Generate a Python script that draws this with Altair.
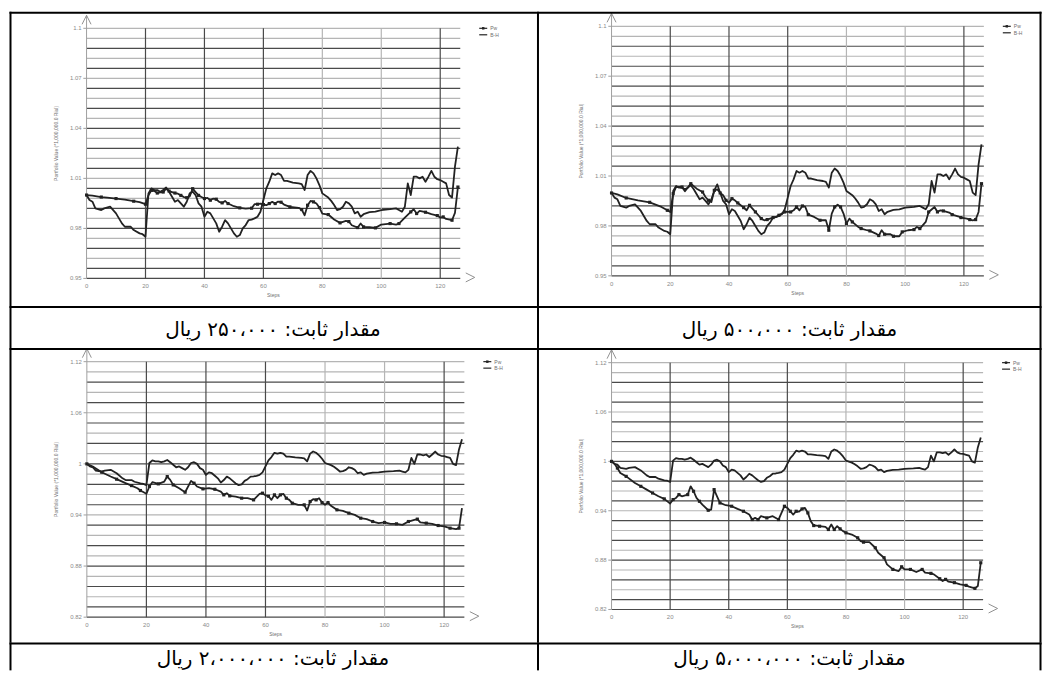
import altair as alt
import pandas as pd

# ---------------- data ----------------
X_TITLE = "Steps"
Y_TITLE = "Portfolio Value (*1,000,000.0 Rial)"
SERIES_NAMES = ["Pw", "B-H"]
CAPTIONS = [
    "مقدار ثابت: ۲۵۰،۰۰۰ ریال",
    "مقدار ثابت: ۵۰۰،۰۰۰ ریال",
    "مقدار ثابت: ۲،۰۰۰،۰۰۰ ریال",
    "مقدار ثابت: ۵،۰۰۰،۰۰۰ ریال",
]
X_TICKS = [0, 20, 40, 60, 80, 100, 120]
Y_TICKS_TOP = [0.95, 0.98, 1.01, 1.04, 1.07, 1.10]
Y_LABELS_TOP = ["0.95", "0.98", "1.01", "1.04", "1.07", "1.1"]
Y_TICKS_BOTTOM = [0.82, 0.88, 0.94, 1.00, 1.06, 1.12]
Y_LABELS_BOTTOM = ["0.82", "0.88", "0.94", "1", "1.06", "1.12"]

# Buy-and-hold (same in all four panels)
BH_STEPS = [0, 1, 2, 3, 5, 6, 8, 10, 12, 13, 15, 16, 18, 19, 20,
            21, 22, 23, 24, 25, 26, 27, 28, 29, 30, 31, 32, 33, 34, 35, 36, 37, 38, 39, 40,
            41, 42, 43, 44, 45, 46, 47, 48, 49, 50, 51, 52, 53, 54, 55, 56, 57, 58, 59, 60,
            61, 62, 63, 64, 65, 66, 67, 68,
            70, 72, 73, 74, 75, 76, 77, 78, 79, 80,
            82, 83, 84, 85, 86, 87, 88, 89, 90, 91, 92, 93, 94,
            96, 98, 100, 103, 105, 106, 107, 108, 109, 110,
            111, 112, 113, 114, 115, 116, 117, 118, 119, 120, 121, 122, 123, 124, 125, 126]
BH_VALUES = [1.000, 0.997, 0.996, 0.992, 0.991, 0.992, 0.993, 0.989, 0.983, 0.981, 0.981, 0.979, 0.977, 0.9765, 0.975,
             1.001, 1.004, 1.003, 1.003, 1.002, 1.003, 1.0045, 1.002, 0.999, 0.996, 0.997, 0.995, 0.993, 0.996, 1.001,
             1.002, 1.000, 0.995, 0.993, 0.987, 0.990, 0.989, 0.986, 0.983, 0.978, 0.981, 0.985, 0.983, 0.980, 0.977,
             0.975, 0.976, 0.980, 0.982, 0.985, 0.9853, 0.986, 0.987, 0.990, 0.997, 1.004, 1.008, 1.013, 1.012, 1.013,
             1.012, 1.0085, 1.0085,
             1.0075, 1.007, 1.0065, 1.003, 1.012, 1.0145, 1.013, 1.010, 1.006, 1.001,
             0.9985, 0.9965, 0.994, 0.991, 0.9915, 0.993, 0.996, 0.995, 0.993, 0.989, 0.990, 0.987, 0.9885,
             0.9897, 0.990, 0.991, 0.9915, 0.992, 0.991, 0.990, 0.993, 1.007, 1.000,
             1.011, 1.011, 1.010, 1.011, 1.008, 1.011, 1.0145, 1.011, 1.0095, 1.009, 1.008, 1.007, 1.000, 0.9985,
             1.017, 1.029]

# Pw, fixed amount 250,000
PW1_STEPS = [0, 2, 5, 7, 10, 13, 16, 18, 20,
             21, 22, 23, 24, 25, 26, 27, 28, 29, 30, 31, 32, 33, 34, 35, 36, 37, 38, 39, 40, 41, 42, 43, 44, 45,
             46, 47, 48, 50, 52, 54, 56,
             57, 58, 59, 60, 61, 62, 63, 64, 65, 66, 67, 69,
             72, 73, 74, 75, 76, 77, 78, 79, 80,
             82, 84, 86, 88, 89, 90, 92, 93, 94,
             96, 98, 100, 103, 105, 106, 108, 110,
             111, 112, 113, 115, 117, 119, 120, 121, 122, 124, 125, 126]
PW1_VALUES = [1.000, 0.9996, 0.9988, 0.9984, 0.9979, 0.9973, 0.9963, 0.9957, 0.9945,
              0.9998, 1.0028, 1.0024, 1.0012, 1.0016, 1.0018, 1.0038, 1.0024, 1.0018, 1.0012, 1.0008, 0.9998,
              0.9988, 0.9984, 0.9992, 1.0038, 1.0018, 0.9998, 0.9988, 0.9979, 0.9983, 0.9969, 0.9979, 0.9975,
              0.9959, 0.9953, 0.9965, 0.9949, 0.9933, 0.9923, 0.9919, 0.9921,
              0.9945, 0.9945, 0.9949, 0.9943, 0.9939, 0.9949, 0.9959, 0.9949, 0.9961, 0.9957, 0.9943, 0.9929,
              0.9923, 0.9913, 0.9879, 0.9939, 0.9965, 0.9959, 0.9949, 0.9925, 0.9889,
              0.9883, 0.9853, 0.9833, 0.9845, 0.9841, 0.9819, 0.9805, 0.9829, 0.9809,
              0.9807, 0.9803, 0.9823, 0.9829, 0.9823, 0.9829, 0.9865, 0.9899,
              0.9915, 0.9889, 0.9905, 0.9897, 0.9885, 0.9877, 0.9865, 0.9869, 0.9857, 0.9849, 0.9893, 1.0048]

# Pw, fixed amount 500,000
PW2_STEPS = [0, 2, 5, 9, 13, 17, 19, 20, 21, 22, 24, 25, 27, 29,
             31, 32, 33, 34, 35, 36, 37, 38, 39, 40, 41, 42, 43, 44, 45, 46, 47, 48, 49, 50, 51, 52, 53, 54, 55,
             56, 57, 58, 59, 60, 61, 62, 63, 64, 65, 66, 67,
             69, 71, 73, 74, 75, 76, 77, 78, 79, 80, 81, 82,
             84, 85, 87, 88, 90, 91, 92, 93, 95, 96, 98, 99, 101, 103, 104, 105, 107, 108, 110,
             111, 112, 113, 115, 116, 118, 119, 121, 122, 123, 124, 125, 126]
PW2_VALUES = [0.9998, 0.9990, 0.9968, 0.9954, 0.9942, 0.9914, 0.9894, 0.9884, 0.9994, 1.0034, 1.0034, 1.0008,
              1.0054, 1.0024,
              1.0004, 0.9974, 0.9954, 0.9944, 1.0014, 1.0050, 0.9998, 0.9984, 0.9954, 0.9940, 0.9964, 0.9954,
              0.9938, 0.9924, 0.9910, 0.9894, 0.9924, 0.9904, 0.9884, 0.9864, 0.9844, 0.9834, 0.9838, 0.9844,
              0.9850, 0.9854, 0.9864, 0.9874, 0.9884, 0.9884, 0.9884, 0.9894, 0.9914, 0.9894, 0.9920, 0.9914,
              0.9868,
              0.9854, 0.9834, 0.9834, 0.9774, 0.9874, 0.9914, 0.9928, 0.9914, 0.9874, 0.9814, 0.9844, 0.9824,
              0.9794, 0.9784, 0.9774, 0.9770, 0.9754, 0.9742, 0.9774, 0.9750, 0.9750, 0.9738, 0.9738, 0.9764,
              0.9774, 0.9778, 0.9794, 0.9784, 0.9824, 0.9884, 0.9914,
              0.9884, 0.9894, 0.9890, 0.9880, 0.9868, 0.9858, 0.9850, 0.9844, 0.9838, 0.9834, 0.9838, 0.9884,
              1.0054]

# Pw, fixed amount 2,000,000
PW3_STEPS = [0, 2, 5, 8, 10, 13, 15, 17, 18, 20,
             21, 22, 24, 26, 27, 28, 29, 31, 33, 35, 36, 37, 39, 41, 43, 45, 46, 47, 48, 50, 52, 54, 56, 58, 59,
             60, 61, 62, 63, 64, 65, 66, 67, 68, 69, 71, 73,
             74, 75, 76, 77, 78, 79, 80, 81, 82,
             84, 86, 88, 90, 92, 94, 96, 98, 100, 102, 104, 106, 108, 110,
             111, 112, 114, 116, 118, 120, 122, 124, 125, 126]
PW3_VALUES = [1.000, 0.9968, 0.9902, 0.9851, 0.9820, 0.9773, 0.9745, 0.9714, 0.9687, 0.9648,
              0.9734, 0.9785, 0.9765, 0.9792, 0.9851, 0.9812, 0.9753, 0.9714, 0.9667, 0.9800, 0.9773, 0.9734,
              0.9706, 0.9714, 0.9702, 0.9675, 0.9636, 0.9656, 0.9624, 0.9616, 0.9597, 0.9597, 0.9577, 0.9648,
              0.9656,
              0.9630, 0.9620, 0.9577, 0.9636, 0.9597, 0.9636, 0.9648, 0.9597, 0.9577, 0.9538, 0.9519, 0.9519,
              0.9452, 0.9558, 0.9585, 0.9577, 0.9597, 0.9546, 0.9519, 0.9546, 0.9507,
              0.9460, 0.9448, 0.9421, 0.9401, 0.9362, 0.9351, 0.9323, 0.9304, 0.9312, 0.9296, 0.9296, 0.9284,
              0.9323, 0.9343,
              0.9351, 0.9312, 0.9304, 0.9296, 0.9276, 0.9265, 0.9245, 0.9233, 0.9245, 0.9480]

# Pw, fixed amount 5,000,000
PW4_STEPS = [0, 1, 2, 3, 5, 8, 10, 12, 14, 16, 18, 20,
             21, 22, 23, 24, 26, 27, 28, 29, 30, 31, 33, 34, 35, 36, 37, 39, 41, 43, 45, 47, 48, 49, 50, 51, 53,
             55, 57, 58, 59,
             60, 61, 62, 63, 64, 65, 66, 67, 68, 69, 70, 71,
             73, 74, 75, 76, 77, 78, 79, 80,
             82, 84, 85, 86, 88, 90, 91, 93, 94, 96, 98, 99, 100, 102, 104, 106, 107, 109, 110,
             112, 113, 114, 115, 117, 119, 121, 122, 124, 125, 126]
PW4_VALUES = [1.000, 0.9972, 0.9919, 0.9859, 0.9818, 0.9738, 0.9697, 0.9657, 0.9616, 0.9576, 0.9544, 0.9487,
              0.9536, 0.9556, 0.9596, 0.9576, 0.9596, 0.9697, 0.9637, 0.9556, 0.9515, 0.9475, 0.9406, 0.9414,
              0.9657, 0.9576, 0.9495, 0.9467, 0.9455, 0.9422, 0.9394, 0.9354, 0.9293, 0.9313, 0.9293, 0.9334,
              0.9313, 0.9334, 0.9293, 0.9374, 0.9455,
              0.9434, 0.9394, 0.9354, 0.9394, 0.9390, 0.9422, 0.9434, 0.9374, 0.9273, 0.9220, 0.9220, 0.9212,
              0.9204, 0.9172, 0.9233, 0.9172, 0.9212, 0.9180, 0.9152, 0.9132,
              0.9111, 0.9071, 0.9030, 0.9018, 0.9018, 0.8950, 0.8889, 0.8829, 0.8748, 0.8687, 0.8667, 0.8719,
              0.8687, 0.8687, 0.8655, 0.8687, 0.8647, 0.8639, 0.8627,
              0.8574, 0.8546, 0.8566, 0.8538, 0.8526, 0.8505, 0.8493, 0.8477, 0.8457, 0.8485, 0.8768]

# ---------------- layout / style ----------------
LINE = "#222222"
DARK_GRID = "#4a4a4a"
LIGHT_GRID = "#b5b5b5"
LABEL = "#8a8a8a"
FONT = "Liberation Sans"
CAP_FONT = "DejaVu Sans"
X_END = 126.8
N_GRID = 25
LEFT_W, RIGHT_W = 529, 506
ROW1_H, CAP1_H, ROW2_H, CAP2_H = 298, 42, 295, 28

GEOM = [
    dict(w=LEFT_W, h=ROW1_H, x0=77.7, ppx=2.953, hi=1.10, lo=0.95, hi_px=19.7, lo_px=270.3, left=True, top=4),
    dict(w=RIGHT_W, h=ROW1_H, x0=74.7, ppx=2.942, hi=1.10, lo=0.95, hi_px=17.7, lo_px=267.7, left=False, top=4),
    dict(w=LEFT_W, h=ROW2_H, x0=78.0, ppx=2.983, hi=1.12, lo=0.82, hi_px=13.7, lo_px=269.7, left=True, top=1),
    dict(w=RIGHT_W, h=ROW2_H, x0=74.7, ppx=2.936, hi=1.12, lo=0.82, hi_px=14.7, lo_px=262.0, left=False, top=1),
]

ONE = pd.DataFrame({"d": [0]})


def border_layers(W, H, left, top_y):
    base = alt.Chart(ONE)
    out = []
    if left:
        out.append(base.mark_rule(color="black", strokeWidth=2).encode(
            x=alt.value(1.5), y=alt.value(top_y - 1), y2=alt.value(H)))
        out.append(base.mark_rule(color="black", strokeWidth=2).encode(
            x=alt.value(0.5), x2=alt.value(W), y=alt.value(top_y)))
    else:
        out.append(base.mark_rule(color="black", strokeWidth=2).encode(
            x=alt.value(1), y=alt.value(top_y - 1), y2=alt.value(H)))
        out.append(base.mark_rule(color="black", strokeWidth=2).encode(
            x=alt.value(W - 1.5), y=alt.value(top_y - 1), y2=alt.value(H)))
        out.append(base.mark_rule(color="black", strokeWidth=2).encode(
            x=alt.value(0), x2=alt.value(W - 0.5), y=alt.value(top_y)))
    return out


def make_panel(pw_steps, pw_vals, g, yticks, ylabels):
    W, H = g["w"], g["h"]
    x0, ppx = g["x0"], g["ppx"]
    hi, lo, hi_px, lo_px = g["hi"], g["lo"], g["hi_px"], g["lo_px"]
    ppy = (lo_px - hi_px) / (hi - lo)
    xs = alt.Scale(domain=[-x0 / ppx, (W - x0) / ppx], nice=False, zero=False)
    ys = alt.Scale(domain=[lo - (H - lo_px) / ppy, hi + hi_px / ppy], nice=False, zero=False)

    def ex(f):
        return alt.X(f, scale=xs, axis=None)

    def ey(f):
        return alt.Y(f, scale=ys, axis=None)

    layers = []
    # horizontal grid
    gstep = (hi - lo) / N_GRID
    hg = pd.DataFrame({"i": list(range(N_GRID + 1))})
    hg["v"] = lo + hg["i"] * gstep
    hg["a"] = 0.0
    hg["b"] = X_END
    hg["c"] = [DARK_GRID if ((i % 2 == 1 and i < N_GRID) or i == 0) else LIGHT_GRID for i in hg["i"]]
    layers.append(alt.Chart(hg).mark_rule(strokeWidth=1.2).encode(
        x=ex("a:Q"), x2="b:Q", y=ey("v:Q"), color=alt.Color("c:N", scale=None)))
    # vertical grid
    vg = pd.DataFrame({"s": X_TICKS[1:]})
    vg["lo"] = lo
    vg["hi"] = hi
    vg["c"] = [LIGHT_GRID if s in (80, 100) else DARK_GRID for s in vg["s"]]
    layers.append(alt.Chart(vg).mark_rule(strokeWidth=1.2).encode(
        x=ex("s:Q"), y=ey("lo:Q"), y2="hi:Q", color=alt.Color("c:N", scale=None)))
    # y axis line + ticks
    ya = pd.DataFrame({"s": [0.0], "a": [lo], "b": [hi + 13 / ppy]})
    layers.append(alt.Chart(ya).mark_rule(strokeWidth=1, color="#a0a0a0").encode(
        x=ex("s:Q"), y=ey("a:Q"), y2="b:Q"))
    tk = pd.DataFrame({"v": yticks, "a": -1.1, "b": 0.0})
    layers.append(alt.Chart(tk).mark_rule(strokeWidth=1, color="#a0a0a0").encode(
        x=ex("a:Q"), x2="b:Q", y=ey("v:Q")))
    # arrows
    up = pd.DataFrame({"s": [0.0], "v": [hi + 8.5 / ppy]})
    layers.append(alt.Chart(up).mark_point(shape="M-1,1L0,-1L1,1", size=81, filled=False,
                                           strokeWidth=1, color="#909090", opacity=1).encode(
        x=ex("s:Q"), y=ey("v:Q")))
    rt = pd.DataFrame({"s": [X_END + 10 / ppx], "v": [lo + 1 / ppy]})
    layers.append(alt.Chart(rt).mark_point(shape="M-1,-1L1,0L-1,1", size=81, filled=False,
                                           strokeWidth=1, color="#909090", opacity=1).encode(
        x=ex("s:Q"), y=ey("v:Q")))
    # series lines
    bh = pd.DataFrame({"s": BH_STEPS, "v": BH_VALUES, "k": SERIES_NAMES[1]})
    pw = pd.DataFrame({"s": pw_steps, "v": pw_vals, "k": SERIES_NAMES[0]})
    ln = pd.concat([bh, pw], ignore_index=True)
    layers.append(alt.Chart(ln).mark_line(strokeWidth=1.8, color=LINE, strokeJoin="round").encode(
        x=ex("s:Q"), y=ey("v:Q"), detail="k:N"))
    mk = pw.iloc[::2]
    layers.append(alt.Chart(mk).mark_square(size=10, color=LINE, opacity=1).encode(
        x=ex("s:Q"), y=ey("v:Q")))
    # tick labels
    yl = pd.DataFrame({"s": 0.0, "v": yticks, "t": ylabels})
    layers.append(alt.Chart(yl).mark_text(align="right", baseline="middle", dx=-5, fontSize=6,
                                          font=FONT, color=LABEL).encode(
        x=ex("s:Q"), y=ey("v:Q"), text="t:N"))
    xl = pd.DataFrame({"s": X_TICKS, "v": lo, "t": [str(t) for t in X_TICKS]})
    layers.append(alt.Chart(xl).mark_text(align="center", baseline="top", dy=5, fontSize=6,
                                          font=FONT, color=LABEL).encode(
        x=ex("s:Q"), y=ey("v:Q"), text="t:N"))
    # titles
    xt = pd.DataFrame({"s": [X_END / 2], "v": [lo], "t": [X_TITLE]})
    layers.append(alt.Chart(xt).mark_text(align="center", baseline="top", dy=15, fontSize=5,
                                          font=FONT, color="#707070").encode(
        x=ex("s:Q"), y=ey("v:Q"), text="t:N"))
    yt = pd.DataFrame({"s": [-31 / ppx], "v": [(hi + lo) / 2 + 10 / ppy], "t": [Y_TITLE]})
    layers.append(alt.Chart(yt).mark_text(align="center", baseline="middle", angle=270, fontSize=5,
                                          font=FONT, color="#707070").encode(
        x=ex("s:Q"), y=ey("v:Q"), text="t:N"))
    # legend
    lx = x0 + X_END * ppx + 19
    ly = hi_px
    for j, name in enumerate(SERIES_NAMES):
        yy = ly + 6.5 * j
        layers.append(alt.Chart(ONE).mark_rule(strokeWidth=1.2, color=LINE).encode(
            x=alt.value(lx), x2=alt.value(lx + 8), y=alt.value(yy)))
        layers.append(alt.Chart(pd.DataFrame({"t": [name]})).mark_text(
            align="left", baseline="middle", fontSize=5, font=FONT, color="#707070").encode(
            x=alt.value(lx + 11), y=alt.value(yy), text="t:N"))
    layers.append(alt.Chart(ONE).mark_square(size=6, color=LINE, opacity=1).encode(
        x=alt.value(lx + 4), y=alt.value(ly)))
    # table borders
    layers += border_layers(W, H, g["left"], g["top"])
    return alt.layer(*layers).properties(width=W, height=H)


def make_caption(text, W, H, left, ty):
    layers = [alt.Chart(pd.DataFrame({"t": [text]})).mark_text(
        align="center", baseline="middle", fontSize=20, font=CAP_FONT, color="black").encode(
        x=alt.value(W / 2), y=alt.value(ty), text="t:N")]
    layers += border_layers(W, H, left, 1)
    return alt.layer(*layers).properties(width=W, height=H)


p1 = make_panel(PW1_STEPS, PW1_VALUES, GEOM[0], Y_TICKS_TOP, Y_LABELS_TOP)
p2 = make_panel(PW2_STEPS, PW2_VALUES, GEOM[1], Y_TICKS_TOP, Y_LABELS_TOP)
p3 = make_panel(PW3_STEPS, PW3_VALUES, GEOM[2], Y_TICKS_BOTTOM, Y_LABELS_BOTTOM)
p4 = make_panel(PW4_STEPS, PW4_VALUES, GEOM[3], Y_TICKS_BOTTOM, Y_LABELS_BOTTOM)
c1 = make_caption(CAPTIONS[0], LEFT_W, CAP1_H, True, 24)
c2 = make_caption(CAPTIONS[1], RIGHT_W, CAP1_H, False, 24)
c3 = make_caption(CAPTIONS[2], LEFT_W, CAP2_H, True, 17)
c4 = make_caption(CAPTIONS[3], RIGHT_W, CAP2_H, False, 17)

chart = alt.ConcatChart(concat=[p1, p2, c1, c2, p3, p4, c3, c4], columns=2, spacing=0,
                        bounds="flush", padding=0).configure_view(strokeWidth=0)

chart.save("out.html", embed_options={"renderer": "svg", "actions": False})
